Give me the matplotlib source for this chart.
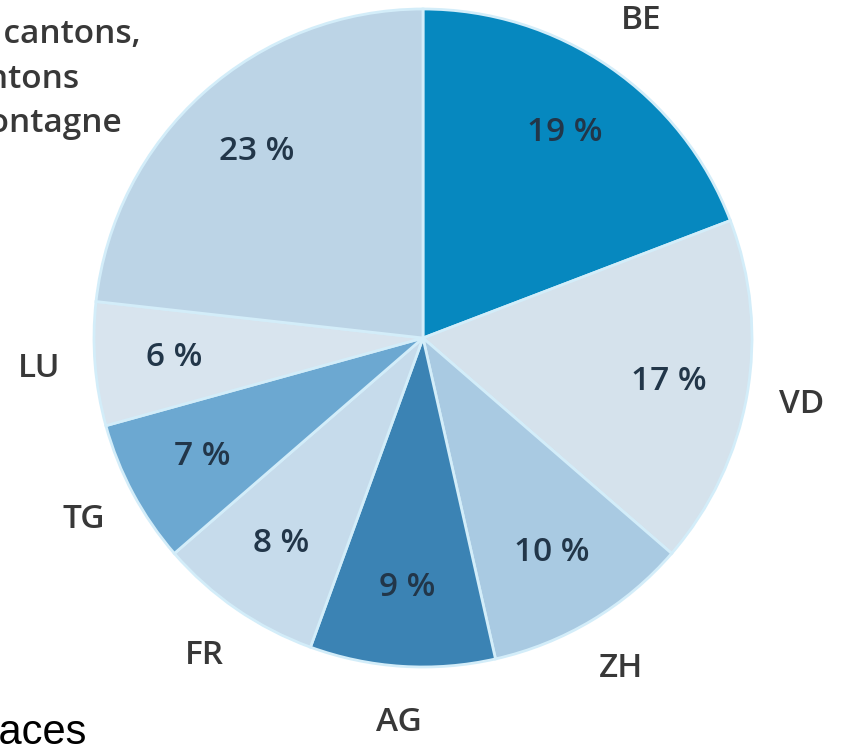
import matplotlib.pyplot as plt

# shares by canton, clockwise from the top
cantons = ["BE", "VD", "ZH", "AG", "FR", "TG", "LU", ""]
shares = [19, 17, 10, 9, 8, 7, 6, 23]
colors = ["#0688bf", "#d5e2ec", "#a9cae2", "#3b83b4", "#c6dbeb",
          "#6ca8d1", "#d8e4ee", "#bcd4e6"]
other_label = "Autres cantons,\ncantons\nde montagne"

fig = plt.figure(figsize=(8.45, 7.45), dpi=100)
ax = fig.add_axes([0, 0, 1, 1])

wedges, texts, autotexts = ax.pie(
    shares, labels=cantons, colors=colors,
    startangle=90, counterclock=False,
    center=(423, 407), radius=329,
    labeldistance=1.17, pctdistance=0.76,
    autopct=lambda p: "%.0f %%" % p,
    wedgeprops=dict(edgecolor="#d3edf9", linewidth=2),
    textprops=dict(family="Open Sans", fontsize=24, color="#383838",
                   fontweight="semibold"),
)
for t in texts:
    t.set_horizontalalignment("center")
for t in autotexts:
    t.set_color("#223649")

# pie() resets the limits, so set them afterwards
ax.set_xlim(0, 845)
ax.set_ylim(0, 745)
ax.axis("off")

# label of the big slice, cut by the left edge
ax.text(15, 666, other_label, ha="center", va="center",
        family="Open Sans", fontsize=24, fontweight="semibold",
        color="#383838", linespacing=1.45)

# caption from the page below, cut off
ax.text(86, 1, "Surfaces", ha="right", va="baseline",
        family="Liberation Sans", fontsize=30, color="black")

plt.savefig("out.png", dpi=100)
